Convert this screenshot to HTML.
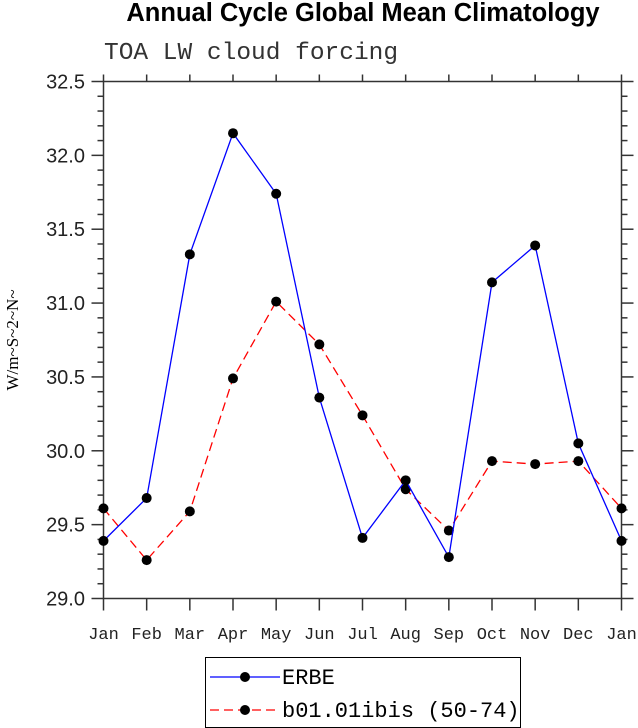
<!DOCTYPE html>
<html><head><meta charset="utf-8"><style>
body{margin:0;background:#fff;}
svg{display:block;font-family:"Liberation Serif",serif;}
</style></head><body>
<svg id="chart" width="638" height="728">
<text x="363" y="21" text-anchor="middle" font-family="Liberation Sans" font-weight="bold" font-size="25.5">Annual Cycle Global Mean Climatology</text>
<text x="104" y="59" font-family="Liberation Mono" font-size="24.5" fill="#333">TOA LW cloud forcing</text>
<text transform="translate(18,340) rotate(-90)" text-anchor="middle" font-family="Liberation Serif" font-size="17">W/m~S~2~N~</text>
<g id="axes"></g>
<g id="series"></g>
<g>
<rect x="205.5" y="657.5" width="315" height="70" fill="#fff" stroke="#000"/>
<g>
<line x1="210" y1="677" x2="280" y2="677" stroke="#00f" stroke-width="1.3"/>
<circle cx="245" cy="677" r="5" fill="#000"/>
<text x="282" y="684" font-size="22" font-family="Liberation Mono">ERBE</text></g>
<g>
<line x1="210" y1="710" x2="280" y2="710" stroke="#f00" stroke-width="1.3" stroke-dasharray="9,5"/>
<circle cx="245" cy="710" r="5" fill="#000"/>
<text x="282" y="717" font-size="22" font-family="Liberation Mono">b01.01ibis (50-74)</text></g>
</g>
</svg>
<script>
const months=["Jan","Feb","Mar","Apr","May","Jun","Jul","Aug","Sep","Oct","Nov","Dec","Jan"];
const erbe=[29.39,29.68,31.33,32.15,31.74,30.36,29.41,29.80,29.28,31.14,31.39,30.05,29.39];
const model=[29.61,29.26,29.59,30.49,31.01,30.72,30.24,29.74,29.46,29.93,29.91,29.93,29.61];
const yTicks=["29.0","29.5","30.0","30.5","31.0","31.5","32.0","32.5"];
const ns="http://www.w3.org/2000/svg";
const L=103.5,R=621.5,T=81.5,B=598.5,yMin=29,yMax=32.5;
const xs=i=>L+(R-L)*i/(months.length-1);
const ys=v=>B-(B-T)*(v-yMin)/(yMax-yMin);
function mk(tag,at,parent){const e=document.createElementNS(ns,tag);for(const k in at)e.setAttribute(k,at[k]);parent.appendChild(e);return e;}
const ax=document.getElementById('axes');
let fr=mk('rect',{x:L,y:T,width:R-L,height:B-T,fill:'none',stroke:'#333','stroke-width':1.5},ax);


for(let v=yMin;v<=yMax+1e-9;v+=0.1){
  const y=ys(v);const major=Math.abs(v*2-Math.round(v*2))<1e-6;const len=major?12:6;
  mk('line',{x1:L-len,y1:y,x2:L,y2:y,stroke:'#333','stroke-width':1.5},ax);
  mk('line',{x1:R,y1:y,x2:R+len,y2:y,stroke:'#333','stroke-width':1.5},ax);
}
yTicks.forEach(t=>{
  const tx=mk('text',{x:85,y:ys(parseFloat(t))+7,'text-anchor':'end','font-size':20,'font-family':'Liberation Sans',fill:'#222'},ax);
  tx.textContent=t;
  
  
});
months.forEach((m,i)=>{
  const x=xs(i);
  mk('line',{x1:x,y1:B,x2:x,y2:B+12,stroke:'#333','stroke-width':1.5},ax);
  mk('line',{x1:x,y1:T-7,x2:x,y2:T,stroke:'#333','stroke-width':1.5},ax);
  const tx=mk('text',{x:x,y:639,'text-anchor':'middle','font-size':17,'font-family':'Liberation Mono',fill:'#222'},ax);
  tx.textContent=m;
  
  
});
const sg=document.getElementById('series');
function series(data,color,dash,name){
  const g=mk('g',{},sg);
  
  
  const at={points:data.map((v,i)=>xs(i)+','+ys(v)).join(' '),fill:'none',stroke:color,'stroke-width':1.3};
  if(dash)at['stroke-dasharray']=dash;
  mk('polyline',at,g);
  data.forEach((v,i)=>{const c=mk('circle',{cx:xs(i),cy:ys(v),r:5,fill:'#000'},g);
    
    });
}
series(model,'#f00','9,5','model-series');
series(erbe,'#00f',null,'erbe-series');
</script>
</body></html>
